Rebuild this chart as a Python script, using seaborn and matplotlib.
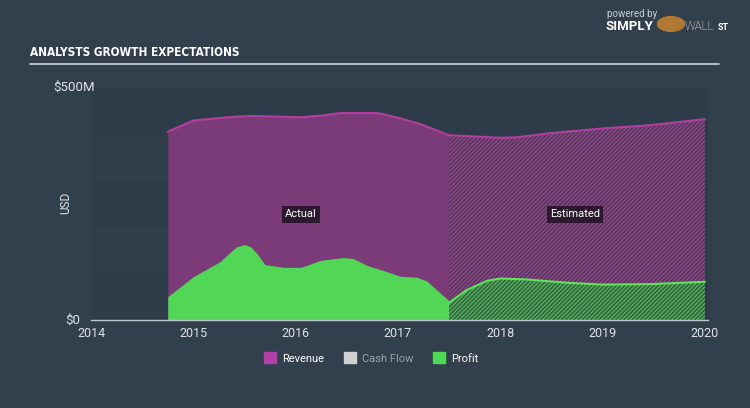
import matplotlib
matplotlib.use('Agg')
import matplotlib.pyplot as plt
import seaborn as sns
import pandas as pd
import numpy as np
from matplotlib.patches import Patch

# --- data (USD millions) ---
rev_actual_x = [2014.75, 2015.0, 2015.33, 2015.56, 2016.05, 2016.27, 2016.43, 2016.79, 2016.85, 2017.02, 2017.25, 2017.5]
rev_actual_y = [404, 428, 435, 438, 435, 439, 444, 444, 442, 433, 418, 398]
rev_est_x = [2017.5, 2018.0, 2018.16, 2018.49, 2019.0, 2019.46, 2020.0]
rev_est_y = [395, 391, 392, 401, 411, 418, 431]

profit_actual_x = [2014.75, 2015.0, 2015.26, 2015.42, 2015.5, 2015.56, 2015.62, 2015.70, 2015.88, 2016.05,
                   2016.12, 2016.24, 2016.47, 2016.56, 2016.70, 2016.86, 2017.02, 2017.18, 2017.28, 2017.5]
profit_actual_y = [50, 93, 125, 157, 162, 157, 143, 119, 113, 113,
                   118, 128, 134, 132, 117, 106, 94, 92, 84, 41]
profit_est_x = [2017.5, 2017.67, 2017.87, 2018.0, 2018.26, 2018.65, 2019.0, 2019.46, 2020.0]
profit_est_y = [37, 64, 84, 89, 87, 80, 76, 77, 82]

year_ticks = [2014, 2015, 2016, 2017, 2018, 2019, 2020]
legend_labels = ['Revenue', 'Cash Flow', 'Profit']

bg_color = '#323f4d'
plot_bg = '#2e3b48'
rev_color = '#7b3a78'
rev_line = '#b0409f'
rev_est_color = '#5f3462'
profit_color = '#52d655'
profit_est_color = '#2f6a3a'
text_color = '#dfe3e7'

sns.set_style('dark')
plt.rcParams['font.family'] = ['Roboto', 'DejaVu Sans']
plt.rcParams['hatch.linewidth'] = 0.8

fig = plt.figure(figsize=(7.5, 4.08), dpi=100, facecolor=bg_color)
ax = fig.add_axes([91 / 750, 1 - 320 / 408, 617 / 750, 233 / 408])
ax.set_facecolor(plot_bg)

# subtle horizontal bands
for i, lo in enumerate(range(0, 500, 100)):
    if i % 2 == 1:
        ax.axhspan(lo, lo + 100, color='#303d4a', zorder=0, lw=0)

# actual areas
ax.fill_between(rev_actual_x, 0, rev_actual_y, color=rev_color, lw=0, zorder=1)
ax.fill_between(profit_actual_x, 0, profit_actual_y, color=profit_color, lw=0, zorder=2)

# estimated areas (hatched)
ax.fill_between(rev_est_x, 0, rev_est_y, facecolor=rev_est_color, edgecolor='#8a4e86',
                hatch='////////', lw=0, zorder=1)
ax.fill_between(profit_est_x, 0, profit_est_y, facecolor=profit_est_color, edgecolor='#63b86a',
                hatch='////////', lw=0, zorder=2)

rev_df = pd.DataFrame({'x': rev_actual_x + rev_est_x, 'y': rev_actual_y + rev_est_y})
sns.lineplot(data=rev_df, x='x', y='y', ax=ax, color=rev_line, lw=1.5, sort=False, zorder=3)
pest_df = pd.DataFrame({'x': profit_est_x, 'y': profit_est_y})
sns.lineplot(data=pest_df, x='x', y='y', ax=ax, color='#5fe35c', lw=1.5, sort=False, zorder=3)

ax.set_xlim(2014, 2020.03)
ax.set_ylim(0, 500)
ax.set_xticks(year_ticks)
ax.set_xticklabels([str(y) for y in year_ticks], color=text_color, fontsize=9)
ax.set_yticks([])
ax.set_xlabel('')
ax.set_ylabel('')
ax.tick_params(axis='x', length=4, color='#c0c8d0', width=1, pad=1)
for s in ['top', 'right', 'left']:
    ax.spines[s].set_visible(False)
ax.spines['bottom'].set_color('#c0c8d0')
ax.spines['bottom'].set_linewidth(1)
ax.grid(False)

# y labels
fig.text(95 / 750, 1 - 87 / 408, '$500M', color=text_color, fontsize=9.5, ha='right', va='center')
fig.text(80 / 750, 1 - 320 / 408, '$0', color=text_color, fontsize=9.5, ha='right', va='center')
fig.text(66 / 750, 1 - 203 / 408, 'USD', color=text_color, fontsize=8.5, rotation=90, ha='center', va='center')

# Actual / Estimated tags
box = dict(boxstyle='square,pad=0.3', fc='#2b1a2d', ec='none')
ax.text(2016.05, 227, 'Actual', color='white', fontsize=8, ha='center', va='center', bbox=box, zorder=5)
ax.text(2018.73, 227, 'Estimated', color='white', fontsize=8, ha='center', va='center', bbox=box, zorder=5)

# header
fig.text(30 / 750, 1 - 53 / 408, 'ANALYSTS GROWTH EXPECTATIONS', color='white', fontsize=8.5,
         fontweight='bold', fontstretch='condensed',
         family=['DejaVu Sans Condensed', 'Liberation Sans Narrow', 'DejaVu Sans'], ha='left', va='center')
fig.add_artist(plt.Line2D([30 / 750, 719 / 750], [1 - 64 / 408] * 2, color='#c9d3dc', lw=1.2))
fig.text(607 / 750, 1 - 14 / 408, 'powered by', color='#c8ced4', fontsize=7, ha='left', va='center')
fig.text(606 / 750, 1 - 27 / 408, 'SIMPLY', color='white', fontsize=9.5, fontweight='bold', ha='left', va='center')
fig.text(685 / 750, 1 - 27 / 408, 'WALL', color='white', fontsize=8.5, fontweight='light', ha='left', va='center')
fig.text(718 / 750, 1 - 27 / 408, 'ST', color='white', fontsize=6.5, fontweight='bold', ha='left', va='center')
fig.add_artist(plt.Circle((671 / 750, 1 - 24 / 408), 0.018, color='#b07a35', transform=fig.transFigure))

# legend
handles = [Patch(color='#b43fa6'), Patch(color='#d0d0d0'), Patch(color='#52d655')]
leg = fig.legend(handles, legend_labels, loc='center', bbox_to_anchor=(0.495, 1 - 358 / 408), ncol=3,
                 frameon=False, fontsize=8, handlelength=1.1, handleheight=1.1, columnspacing=1.8,
                 handletextpad=0.5)
for t, c in zip(leg.get_texts(), ['white', '#9aa3ac', 'white']):
    t.set_color(c)

fig.savefig('out.png', dpi=100, facecolor=bg_color)
